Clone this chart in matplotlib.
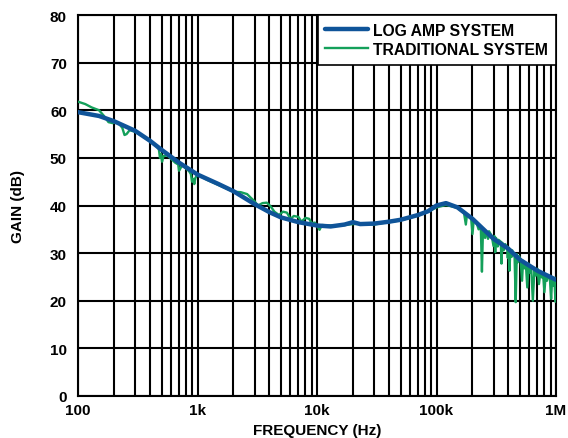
import matplotlib
matplotlib.use("Agg")
import matplotlib.pyplot as plt
from matplotlib.ticker import FixedLocator, NullFormatter

plt.rcParams["font.family"] = ["Liberation Sans", "DejaVu Sans"]
plt.rcParams["font.weight"] = "bold"

# LOG AMP SYSTEM (blue)
log_freq = [100, 150, 200, 300, 400, 500, 700, 1000, 1500, 2000, 3000, 4000,
            5000, 7000, 10000, 13000, 17000, 20000, 23000, 30000, 40000, 50000,
            70000, 85000, 100000, 120000, 150000, 200000, 300000, 400000,
            500000, 700000, 1000000]
log_gain = [59.6, 58.8, 57.7, 55.7, 53.6, 51.7, 49.0, 46.5, 44.5, 43.0, 40.3,
            38.6, 37.5, 36.5, 35.8, 35.6, 36.0, 36.5, 36.1, 36.2, 36.6, 37.0,
            38.0, 38.8, 40.0, 40.5, 39.6, 37.2, 33.0, 30.9, 28.6, 26.3, 24.4]

# TRADITIONAL SYSTEM (green)
trad_freq = [100, 115, 130, 150, 165, 180, 195, 215, 235, 245, 255, 270, 300,
             350, 400, 450, 475, 485, 495, 505, 520, 560, 600, 650, 690, 700,
             720, 740, 800, 850, 880, 900, 920, 940, 960, 1000, 1200, 1500,
             1800, 2000, 2300, 2600, 2800, 3000, 3200, 3500, 3800, 4100, 4400,
             4800, 5200, 5600, 6000, 6400, 7000, 7400, 8000, 8600, 9000, 9600,
             10000, 10500, 11000, 13000, 17000, 20000, 25000, 30000, 35000,
             40000, 50000, 60000, 70000, 85000, 100000, 120000, 150000, 170000,
             176000, 180000, 195000, 200000, 205000, 215000, 225000, 235000,
             240000, 245000, 255000, 260000, 265000, 270000, 275000, 290000,
             300000, 305000, 310000, 315000, 325000, 330000, 345000, 350000,
             355000, 365000, 375000, 390000, 395000, 400000, 408000, 415000,
             425000, 430000, 450000, 460000, 470000, 480000, 490000, 505000,
             520000, 530000, 545000, 560000, 575000, 590000, 605000, 620000,
             640000, 660000, 680000, 700000, 720000, 740000, 760000, 780000,
             800000, 820000, 840000, 860000, 890000, 910000, 930000, 950000,
             970000, 990000, 1000000]
trad_gain = [61.8, 61.3, 60.6, 60.0, 58.8, 57.5, 57.3, 57.5, 56.3, 54.8, 55.0,
             55.8, 55.5, 54.5, 53.5, 52.5, 51.8, 50.0, 50.8, 49.2, 50.4, 50.5,
             49.8, 49.0, 48.6, 47.3, 47.8, 48.4, 47.8, 47.2, 46.6, 45.0, 45.6,
             44.5, 45.8, 46.5, 45.4, 44.3, 43.4, 42.9, 42.8, 42.4, 41.6, 40.9,
             40.0, 40.5, 40.6, 39.8, 38.7, 38.0, 38.7, 38.5, 37.2, 37.8, 37.6,
             36.6, 37.4, 37.2, 36.3, 36.4, 35.8, 34.9, 35.9, 35.8, 35.9, 36.1,
             36.2, 36.0, 36.3, 36.5, 36.9, 37.4, 37.9, 38.7, 39.6, 40.1, 39.5,
             38.4, 36.0, 38.1, 37.3, 34.0, 37.0, 36.6, 35.0, 35.3, 26.1, 35.2,
             33.2, 34.6, 34.0, 33.0, 34.6, 33.6, 31.5, 33.6, 30.2, 33.2, 31.4,
             32.8, 32.4, 27.8, 32.2, 30.6, 31.9, 31.3, 29.0, 31.2, 26.3, 30.8,
             29.2, 30.6, 29.4, 19.7, 29.8, 28.1, 29.4, 28.7, 24.2, 28.4, 26.8,
             27.6, 22.8, 27.8, 25.9, 27.0, 20.0, 26.5, 25.3, 26.7, 23.5, 26.0,
             24.9, 25.6, 21.8, 25.5, 24.2, 25.4, 24.5, 20.4, 25.0, 23.2, 24.5,
             19.8, 24.8]

x_ticks = [100, 1000, 10000, 100000, 1000000]
x_tick_labels = ["100", "1k", "10k", "100k", "1M"]
y_ticks = [0, 10, 20, 30, 40, 50, 60, 70, 80]

blue = "#0f5499"
green = "#14a05a"

fig = plt.figure(figsize=(5.68, 4.39), dpi=100)
ax = fig.add_axes([78 / 568, 42 / 439, 478 / 568, 381 / 439])

green_line, = ax.plot(trad_freq, trad_gain, color=green, lw=1.7, zorder=3,
                      label="TRADITIONAL SYSTEM")
blue_line, = ax.plot(log_freq, log_gain, color=blue, lw=3.2, zorder=4,
                     solid_capstyle="round", label="LOG AMP SYSTEM")

ax.set_xscale("log")
ax.set_xlim(100, 1e6)
ax.set_ylim(0, 80)
ax.xaxis.set_major_locator(FixedLocator(x_ticks))
ax.set_xticklabels(x_tick_labels)
minor = [m * d for d in [100, 1000, 10000, 100000] for m in range(2, 10)]
ax.xaxis.set_minor_locator(FixedLocator(minor))
ax.xaxis.set_minor_formatter(NullFormatter())
ax.set_yticks(y_ticks)

ax.grid(True, which="both", color="black", lw=1.5)
ax.set_axisbelow(True)
for s in ax.spines.values():
    s.set_color("black")
    s.set_linewidth(1.5)
ax.tick_params(which="both", length=0, labelsize=11)
ax.tick_params(axis="x", pad=5)
ax.tick_params(axis="y", pad=8)

ax.set_xlabel("FREQUENCY (Hz)", fontsize=11, fontweight="bold")
ax.set_ylabel("GAIN (dB)", fontsize=11, fontweight="bold")
ax.xaxis.set_label_coords(0.5, -0.072)
ax.yaxis.set_label_coords(-0.110, 0.5)

leg = ax.legend(handles=[blue_line, green_line], loc="upper right",
                borderaxespad=0, fancybox=False, framealpha=1,
                edgecolor="black", fontsize=11.3, handlelength=2.7,
                handletextpad=0.35, borderpad=0.5, labelspacing=0.25)
leg.get_frame().set_linewidth(1.2)
leg.set_zorder(10)

fig.savefig("out.png", dpi=100)
